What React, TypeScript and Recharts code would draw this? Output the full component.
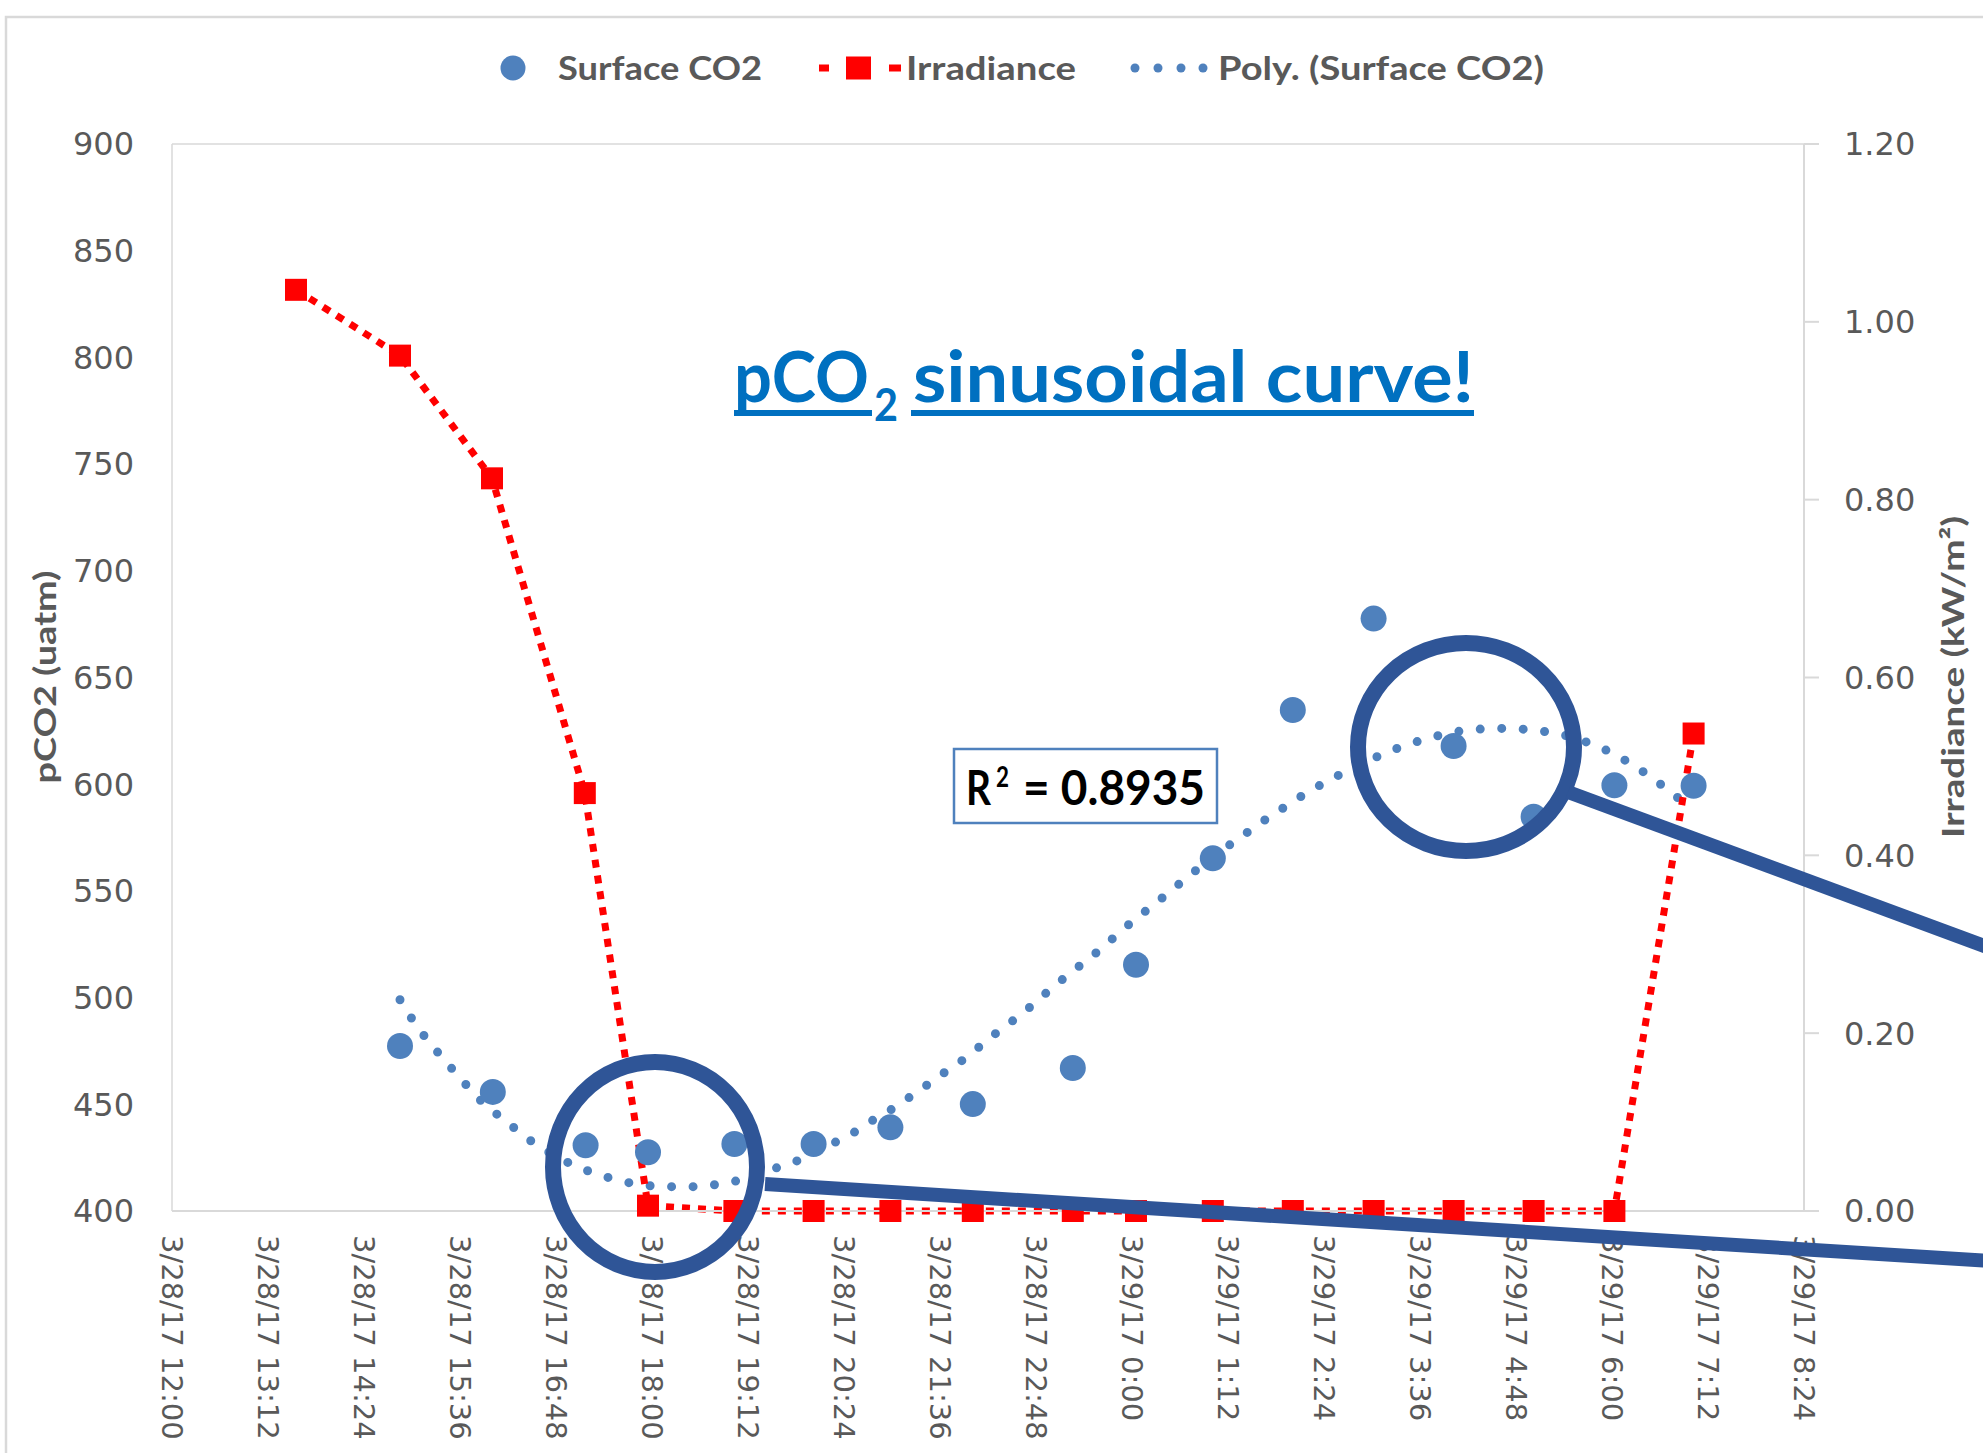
import React from 'react';
import { ComposedChart, Line, Scatter, XAxis, YAxis, ReferenceLine } from 'recharts';

// time axis is hours after 3/28/17 12:00
const timeTicks = [0, 1.2, 2.4, 3.6, 4.8, 6, 7.2, 8.4, 9.6, 10.8, 12, 13.2, 14.4, 15.6, 16.8, 18, 19.2, 20.4];
const timeLabels = [
  '3/28/17 12:00', '3/28/17 13:12', '3/28/17 14:24', '3/28/17 15:36', '3/28/17 16:48', '3/28/17 18:00',
  '3/28/17 19:12', '3/28/17 20:24', '3/28/17 21:36', '3/28/17 22:48', '3/29/17 0:00', '3/29/17 1:12',
  '3/29/17 2:24', '3/29/17 3:36', '3/29/17 4:48', '3/29/17 6:00', '3/29/17 7:12', '3/29/17 8:24',
];
const pco2Ticks = [400, 450, 500, 550, 600, 650, 700, 750, 800, 850, 900];
const irrTicks = [0, 0.2, 0.4, 0.6, 0.8, 1.0, 1.2];

const co2Hours = [2.85, 4.01, 5.17, 5.95, 7.03, 8.02, 8.98, 10.01, 11.26, 12.05, 13.01, 14.01, 15.02, 16.02, 17.02, 18.03, 19.02];
const surfaceCo2 = [477.3, 455.8, 430.8, 427.5, 431.4, 431.4, 439.2, 450.1, 467.0, 515.4, 565.3, 634.8, 677.6, 617.9, 584.8, 599.5, 599.3];

const irrHours = [1.55, 2.85, 4.0, 5.16, 5.95, 7.03, 8.02, 8.98, 10.01, 11.26, 12.05, 13.01, 14.01, 15.02, 16.02, 17.02, 18.03, 19.02];
const irradiance = [1.036, 0.962, 0.824, 0.47, 0.006, 0, 0, 0, 0, 0, 0, 0, 0, 0, 0, 0, 0, 0.537];

// polynomial trend of Surface CO2, sampled along the curve
const polyHours = [
  2.85, 3.0, 3.16, 3.33, 3.51, 3.69, 3.88, 4.09, 4.31, 4.53, 4.76, 4.99, 5.23, 5.49, 5.75, 6.02, 6.29, 6.57,
  6.84, 7.1, 7.35, 7.6, 7.84, 8.08, 8.32, 8.56, 8.78, 9.01, 9.23, 9.45, 9.67, 9.9, 10.12, 10.33, 10.55, 10.77,
  10.98, 11.19, 11.41, 11.63, 11.83, 12.04, 12.26, 12.48, 12.69, 12.91, 13.13, 13.35, 13.56, 13.79, 14.02,
  14.24, 14.48, 14.7, 14.95, 15.18, 15.43, 15.68, 15.95, 16.2, 16.48, 16.75, 17.01, 17.28, 17.54, 17.79,
  18.03, 18.26, 18.48, 18.7, 18.92, 19.02,
];
const polyPco2 = [
  499, 490, 481.7, 474, 466.2, 458.6, 451, 444.5, 438, 431.7, 426.5, 422, 418.4, 415.3, 413, 411.7, 411.4, 411.4,
  412.7, 414.5, 417.4, 420.8, 423.9, 428.2, 432.8, 437.6, 443, 448, 453.6, 459.4, 465.3, 471.2, 477.8, 484.2,
  490.3, 497, 503.9, 510.3, 516.8, 523.4, 530.1, 536.7, 543.2, 549.8, 556.4, 562.8, 569.2, 574.9, 580.7,
  586.4, 592, 597.3, 602, 606.7, 610.9, 614.9, 618.3, 621.3, 623.8, 625.4, 626, 626.2, 625.2, 624.1, 621.5,
  618.2, 614, 609, 603.5, 597.3, 590.7, 587.5,
];

const co2Data = co2Hours.map((t, i) => ({ t, v: surfaceCo2[i] }));
const irrData = irrHours.map((t, i) => ({ t, v: irradiance[i] }));
const polyData = polyHours.map((t, i) => ({ t, v: polyPco2[i] }));

const GREY = '#595959';
const AXIS = '#D9D9D9';
const BLUE = '#4F81BD';
const RED = '#FF0000';
const NAVY = '#2F5597';
const LABEL_FONT = 'Lato, "Open Sans", sans-serif';

const TimeTick = (props: any) => {
  const { x, y, payload } = props;
  const idx = timeTicks.findIndex((t) => Math.abs(t - payload.value) < 1e-6);
  return (
    <text
      transform={`translate(${x},${y}) rotate(90)`}
      dy="0.35em"
      textAnchor="start"
      fontFamily="DejaVu Sans"
      fontSize={29}
      fill={GREY}
    >
      {idx >= 0 ? timeLabels[idx] : ''}
    </text>
  );
};

const Overlay = () => (
  <svg
    width={1983}
    height={1453}
    style={{ position: 'absolute', left: 0, top: 0, pointerEvents: 'none' }}
  >
    {/* chart frame */}
    <rect x={6} y={17} width={3000} height={3000} fill="none" stroke={AXIS} strokeWidth={2.5} />

    {/* legend */}
    <g fontFamily={LABEL_FONT} fontWeight={700} fontSize={32} fill={GREY}>
      <circle cx={513} cy={68} r={12.5} fill={BLUE} />
      <text x={558} y={80} textLength={204} lengthAdjust="spacingAndGlyphs">Surface CO2</text>
      <rect x={819} y={64.5} width={10} height={7} fill={RED} />
      <rect x={846} y={56.5} width={25} height={23} fill={RED} />
      <rect x={889} y={64.5} width={12} height={7} fill={RED} />
      <text x={906} y={80} textLength={170} lengthAdjust="spacingAndGlyphs">Irradiance</text>
      {[1135, 1158, 1181, 1203].map((cx) => (
        <circle key={cx} cx={cx} cy={68} r={4.5} fill={BLUE} />
      ))}
      <text x={1218} y={80} textLength={326} lengthAdjust="spacingAndGlyphs">Poly. (Surface CO2)</text>
    </g>

    {/* axis titles */}
    <text
      transform="translate(56,677) rotate(-90)"
      textAnchor="middle"
      fontFamily={LABEL_FONT}
      fontWeight={700}
      fontSize={30}
      fill={GREY}
      textLength={213}
      lengthAdjust="spacingAndGlyphs"
    >
      pCO2 (uatm)
    </text>
    <text
      transform="translate(1964,677) rotate(-90)"
      textAnchor="middle"
      fontFamily={LABEL_FONT}
      fontWeight={700}
      fontSize={30}
      fill={GREY}
      textLength={322}
      lengthAdjust="spacingAndGlyphs"
    >
      Irradiance (kW/m²)
    </text>

    {/* headline */}
    <g fontFamily={LABEL_FONT} fontWeight={700} fill="#0070C0">
      <text x={734} y={402} fontSize={70} textLength={135} lengthAdjust="spacingAndGlyphs">pCO</text>
      <text x={874} y={421} fontSize={46} textLength={24} lengthAdjust="spacingAndGlyphs">2</text>
      <text x={913} y={402} fontSize={70} textLength={561} lengthAdjust="spacingAndGlyphs">sinusoidal curve!</text>
      <rect x={734} y={410} width={138} height={6} />
      <rect x={911} y={410} width={563} height={6} />
    </g>

    {/* R-squared box */}
    <rect x={954} y={749} width={263} height={74} fill="#fff" stroke={BLUE} strokeWidth={2.5} />
    <g fontFamily={LABEL_FONT} fontWeight={700} fill="#000">
      <text x={966} y={805} fontSize={48} textLength={25} lengthAdjust="spacingAndGlyphs">R</text>
      <text x={996} y={787} fontSize={29} textLength={13} lengthAdjust="spacingAndGlyphs">2</text>
      <text x={1023} y={805} fontSize={48} textLength={182} lengthAdjust="spacingAndGlyphs">= 0.8935</text>
    </g>

    {/* callouts */}
    <g fill="none" stroke={NAVY}>
      <ellipse cx={655} cy={1167} rx={102} ry={105} strokeWidth={16} />
      <line x1={765} y1={1184} x2={1990} y2={1261} strokeWidth={14} />
      <ellipse cx={1466} cy={747} rx={108} ry={104} strokeWidth={16} />
      <line x1={1568} y1={792} x2={1990} y2={948} strokeWidth={14} />
    </g>
  </svg>
);

export default function App() {
  return (
    <div style={{ position: 'absolute', left: 0, top: 0, width: 1983, height: 1453, background: '#fff' }}>
      <ComposedChart width={1983} height={1453} margin={{ top: 144, right: 0, bottom: 0, left: 0 }}>
        <XAxis
          type="number"
          dataKey="t"
          domain={[0, 20.4]}
          ticks={timeTicks}
          interval={0}
          allowDataOverflow
          height={242}
          axisLine={{ stroke: AXIS, strokeWidth: 2 }}
          tickLine={false}
          tickSize={0}
          tickMargin={24}
          tick={<TimeTick />}
        />
        <YAxis
          yAxisId="co2"
          dataKey="v"
          domain={[400, 900]}
          ticks={pco2Ticks}
          interval={0}
          width={172}
          axisLine={{ stroke: AXIS, strokeWidth: 1.5 }}
          tickLine={false}
          tickSize={0}
          tickMargin={38}
          tick={{ fontFamily: 'DejaVu Sans', fontSize: 32, fill: GREY }}
        />
        <YAxis
          yAxisId="irr"
          orientation="right"
          dataKey="v"
          domain={[0, 1.2]}
          ticks={irrTicks}
          interval={0}
          width={179}
          axisLine={{ stroke: AXIS, strokeWidth: 2 }}
          tickLine={{ stroke: AXIS, strokeWidth: 2 }}
          tickSize={15}
          tickMargin={25}
          tickFormatter={(v: number) => v.toFixed(2)}
          tick={{ fontFamily: 'DejaVu Sans', fontSize: 32, fill: GREY }}
        />
        <ReferenceLine yAxisId="co2" y={900} stroke={AXIS} strokeWidth={1.5} />
        <Scatter
          name="Surface CO2"
          yAxisId="co2"
          data={co2Data}
          dataKey="v"
          isAnimationActive={false}
          shape={(p: any) => <circle cx={p.cx} cy={p.cy} r={13} fill={BLUE} />}
        />
        <Line
          name="Poly. (Surface CO2)"
          yAxisId="co2"
          data={polyData}
          dataKey="v"
          type="monotone"
          stroke={BLUE}
          strokeWidth={9}
          strokeDasharray="0 21.5"
          strokeLinecap="round"
          dot={false}
          activeDot={false}
          isAnimationActive={false}
        />
        <Line
          name="Irradiance"
          yAxisId="irr"
          data={irrData}
          dataKey="v"
          type="linear"
          stroke={RED}
          strokeWidth={7}
          strokeDasharray="8 8"
          dot={(p: any) => (
            <rect key={`sq-${p.index}`} x={p.cx - 11} y={p.cy - 11} width={22} height={22} fill={RED} />
          )}
          activeDot={false}
          isAnimationActive={false}
        />
      </ComposedChart>
      <Overlay />
    </div>
  );
}
